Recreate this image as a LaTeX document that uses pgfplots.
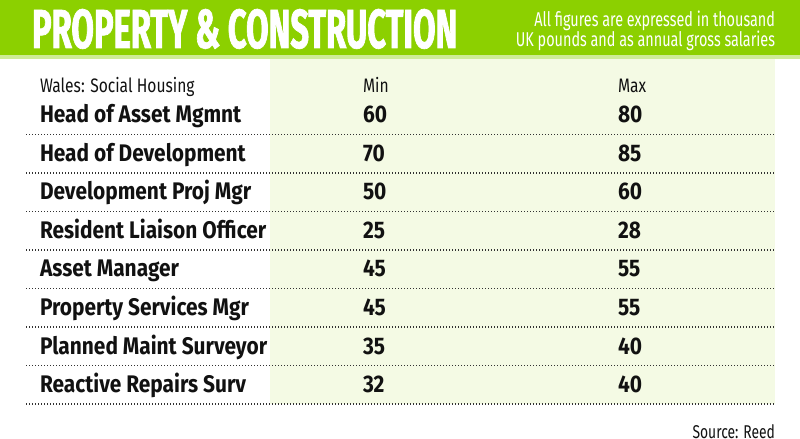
\documentclass[border=0pt]{standalone}
\usepackage{pgfplots}
\pgfplotsset{compat=1.18}
\usepackage{fontspec}
\setmainfont{Fira Sans}
\newfontfamily\titlef[FakeStretch=0.595, FakeBold=1.2]{Fira Sans}
\newfontfamily\rowf[FakeStretch=0.87]{Fira Sans}
\newfontfamily\headf[FakeStretch=0.80]{Fira Sans}
\newfontfamily\subf[FakeStretch=0.72]{Fira Sans}
\newfontfamily\smallf[FakeStretch=0.75]{Fira Sans}
\definecolor{banner}{RGB}{140,208,0}
\definecolor{stripe}{RGB}{205,236,150}
\definecolor{lightbg}{RGB}{244,250,228}
\definecolor{ink}{RGB}{17,17,17}
\definecolor{dots}{RGB}{50,50,50}
\pgfplotsset{
  txt/.style={draw=none, mark=none, nodes near coords, point meta=explicit symbolic,
    every node near coord/.append style={inner sep=0pt, outer sep=0pt, text=ink, anchor=base west, #1}},
  dl/.style={draw=dots, line width=1.1pt, dash pattern=on 1.1pt off 1.9pt, mark=none}
}
\begin{document}
\begin{tikzpicture}
\begin{axis}[scale only axis, width=800pt, height=450pt,
  xmin=0, xmax=800, ymin=0, ymax=450, y dir=reverse, hide axis, clip=false]
% backgrounds
\addplot[fill=banner, draw=none] coordinates {(0,0) (800,0) (800,55) (0,55)};
\addplot[fill=stripe, draw=none] coordinates {(0,55) (800,55) (800,59) (0,59)};
\addplot[fill=lightbg, draw=none] coordinates {(270,59) (775,59) (775,404) (270,404)};
% dotted rules
\addplot[dl] coordinates {(26,134.5) (775,134.5)};
\addplot[dl] coordinates {(26,173) (775,173)};
\addplot[dl] coordinates {(26,211.5) (775,211.5)};
\addplot[dl] coordinates {(26,250) (775,250)};
\addplot[dl] coordinates {(26,288.5) (775,288.5)};
\addplot[dl] coordinates {(26,327) (775,327)};
\addplot[dl] coordinates {(26,365.5) (775,365.5)};
\addplot[dl] coordinates {(26,404) (775,404)};
% title
\addplot[txt={text=white, font=\titlef\fontsize{55}{55}\selectfont\bfseries}]
  table[col sep=comma, meta=label] {
x,y,label
32,48,PROPERTY \& CONSTRUCTION
};
\addplot[txt={text=white, anchor=base east, font=\subf\fontsize{20}{20}\selectfont}]
  table[col sep=comma, meta=label] {
x,y,label
775,27,All figures are expressed in thousand
775,47,UK pounds and as annual gross salaries
};
% header row
\addplot[txt={font=\headf\fontsize{19.5}{19.5}\selectfont}]
  table[col sep=comma, meta=label] {
x,y,label
40,93,Wales: Social Housing
363,93,Min
618,93,Max
};
% row labels
\addplot[txt={font=\rowf\fontsize{24}{24}\selectfont\bfseries}]
  table[col sep=comma, meta=label] {
x,y,label
40,123,Head of Asset Mgmnt
40,161.5,Head of Development
40,200,Development Proj Mgr
40,238.5,Resident Liaison Officer
40,277,Asset Manager
40,315.5,Property Services Mgr
40,354,Planned Maint Surveyor
40,392.5,Reactive Repairs Surv
};
% Min values
\addplot[txt={font=\rowf\fontsize{24}{24}\selectfont\bfseries}]
  table[col sep=comma, meta=v] {
x,y,v
363,123,60
363,161.5,70
363,200,50
363,238.5,25
363,277,45
363,315.5,45
363,354,35
363,392.5,32
};
% Max values
\addplot[txt={font=\rowf\fontsize{24}{24}\selectfont\bfseries}]
  table[col sep=comma, meta=v] {
x,y,v
618,123,80
618,161.5,85
618,200,60
618,238.5,28
618,277,55
618,315.5,55
618,354,40
618,392.5,40
};
% source
\addplot[txt={anchor=base east, font=\smallf\fontsize{18.5}{18.5}\selectfont}]
  table[col sep=comma, meta=label] {
x,y,label
775,438,Source: Reed
};
\end{axis}
\end{tikzpicture}
\end{document}
